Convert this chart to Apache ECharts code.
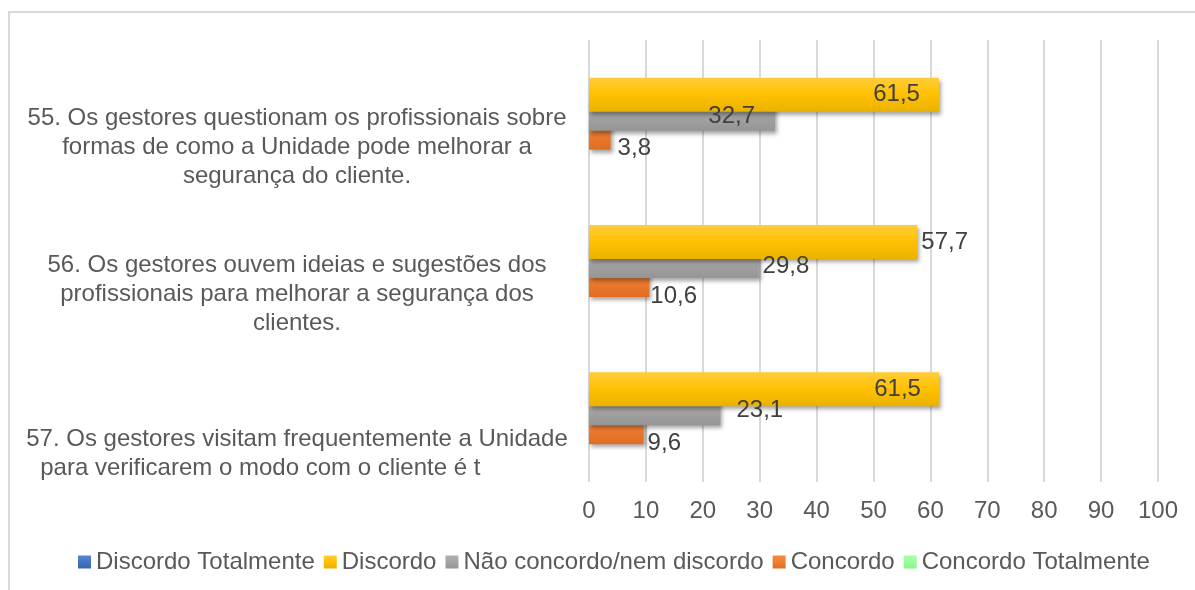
<!DOCTYPE html>
<html><head><meta charset="utf-8">
<script src="https://cdn.jsdelivr.net/npm/echarts@6/dist/echarts.min.js"></script>
<style>html,body{margin:0;padding:0;background:#fff}#c{width:1195px;height:590px}</style>
</head><body><div id="c"></div>
<script>
// ---- data ----
const categories = [
  "55. Os gestores questionam os profissionais sobre\nformas de como a Unidade pode melhorar a\nsegurança do cliente.",
  "56. Os gestores ouvem ideias e sugestões dos\nprofissionais para melhorar a segurança dos\nclientes.",
  "57. Os gestores visitam frequentemente a Unidade\npara verificarem o modo com o cliente é t" + "\u00a0".repeat(11)
];
const seriesNames = ["Discordo Totalmente", "Discordo", "Não concordo/nem discordo", "Concordo", "Concordo Totalmente"];
const discordoTotalmente = [0, 0, 0];
const discordo = [61.5, 57.7, 61.5];
const naoConcordo = [32.7, 29.8, 23.1];
const concordo = [3.8, 10.6, 9.6];
const concordoTotalmente = [0, 0, 0];
const xMin = 0, xMax = 100, xStep = 10;

// ---- styles ----
const FONT = '"Liberation Sans", Arial, sans-serif';
function grad(top, mid, bottom) {
  return new echarts.graphic.LinearGradient(0, 0, 0, 1, [
    { offset: 0, color: top }, { offset: 0.5, color: mid }, { offset: 1, color: bottom }
  ]);
}
const fills = [
  grad('#5b86d6', '#4472c4', '#3a64b0'),
  grad('#ffcd3a', '#ffc000', '#eab200'),
  grad('#b0b0b0', '#a5a5a5', '#959595'),
  grad('#f68c40', '#ed7d31', '#e06c20'),
  grad('#a6ffa6', '#99ff99', '#8cf08c')
];
const allValues = [discordoTotalmente, discordo, naoConcordo, concordo, concordoTotalmente];
// label placement per series / category (style only)
const labelPlacement = [
  null,
  [{ position: 'insideRight', distance: 19 }, { position: 'right', distance: 4 }, { position: 'insideRight', distance: 18 }],
  [{ position: 'insideRight', distance: 20, offset: [0, 3] }, { position: 'right', distance: 4, offset: [0, 5] }, { position: 'right', distance: 16, offset: [0, 2] }],
  [{ position: 'right', distance: 7, offset: [0, 16] }, { position: 'right', distance: 1, offset: [0, 16] }, { position: 'right', distance: 4, offset: [0, 16] }],
  null
];
const BAR_W = 34, BAR_GAP = '-44.1%';

const series = [];
seriesNames.forEach((name, i) => {
  series.push({
    name, type: 'bar', xAxisIndex: 0, yAxisIndex: 0,
    data: allValues[i], barWidth: BAR_W, barGap: BAR_GAP,
    z: 6 - i,
    itemStyle: { color: fills[i], shadowColor: 'rgba(0,0,0,0.35)', shadowBlur: 4, shadowOffsetX: 2, shadowOffsetY: 3 },
    label: { show: false },
    emphasis: { disabled: true }
  });
});
// label carriers on an identical hidden axis pair, drawn above all bars
seriesNames.forEach((name, i) => {
  series.push({
    name, type: 'bar', xAxisIndex: 1, yAxisIndex: 1,
    data: allValues[i].map((v, k) => {
      const p = labelPlacement[i];
      return p ? { value: v, label: Object.assign({ show: true }, p[k]) } : { value: v, label: { show: false } };
    }),
    barWidth: BAR_W, barGap: BAR_GAP, z: 20, silent: true,
    itemStyle: { color: 'rgba(0,0,0,0)' },
    label: {
      show: true, fontFamily: FONT, fontSize: 24, color: '#404040',
      formatter: p => p.value.toFixed(1).replace('.', ',')
    },
    emphasis: { disabled: true }
  });
});

const catText = { fontFamily: FONT, fontSize: 24, color: '#595959', lineHeight: 29, align: 'center' };

const chart = echarts.init(document.getElementById('c'), null, { renderer: 'canvas' });
chart.setOption({
  animation: false,
  backgroundColor: '#fff',
  textStyle: { fontFamily: FONT },
  grid: { left: 589, right: 37, top: 40, bottom: 108, containLabel: false, outerBoundsMode: 'none' },
  xAxis: [
    {
      type: 'value', min: xMin, max: xMax, interval: xStep,
      axisLine: { show: false }, axisTick: { show: false },
      splitLine: { show: true, lineStyle: { color: '#d9d9d9', width: 2 } },
      axisLabel: { fontFamily: FONT, fontSize: 24, color: '#595959', margin: 17 }
    },
    { type: 'value', min: xMin, max: xMax, interval: xStep, show: false, splitLine: { show: false } }
  ],
  yAxis: [
    {
      type: 'category', data: categories, inverse: true,
      axisLine: { show: false }, axisTick: { show: false }, splitLine: { show: false },
      axisLabel: {
        interval: 0, fontFamily: FONT, fontSize: 24, color: '#595959',
        align: 'center', margin: 292, lineHeight: 29,
        // a spacer line pushes each wrapped label below the middle of its band
        formatter: (value, idx) => (value.split('\n').length > 2 ? '{s3|\u00a0}\n' : '{s2|\u00a0}\n') +
          value.split('\n').map(l => '{t|' + l + '}').join('\n'),
        rich: {
          t: catText,
          s3: Object.assign({}, catText, { lineHeight: 67 }),
          s2: Object.assign({}, catText, { lineHeight: 92 })
        }
      }
    },
    { type: 'category', data: categories, inverse: true, show: false }
  ],
  legend: {
    data: seriesNames, left: 73, top: 545, icon: 'rect',
    itemWidth: 13, itemHeight: 13, itemGap: 9,
    itemStyle: { shadowBlur: 0, shadowOffsetX: 0, shadowOffsetY: 0, shadowColor: 'rgba(0,0,0,0)' },
    textStyle: { fontFamily: FONT, fontSize: 24, color: '#595959' }
  },
  graphic: [{
    type: 'polyline', silent: true,
    shape: { points: [[9, 600], [9, 12], [1200, 12]] },
    style: { stroke: '#d9d9d9', lineWidth: 2, fill: null }
  }],
  series
});
</script>
</body></html>
